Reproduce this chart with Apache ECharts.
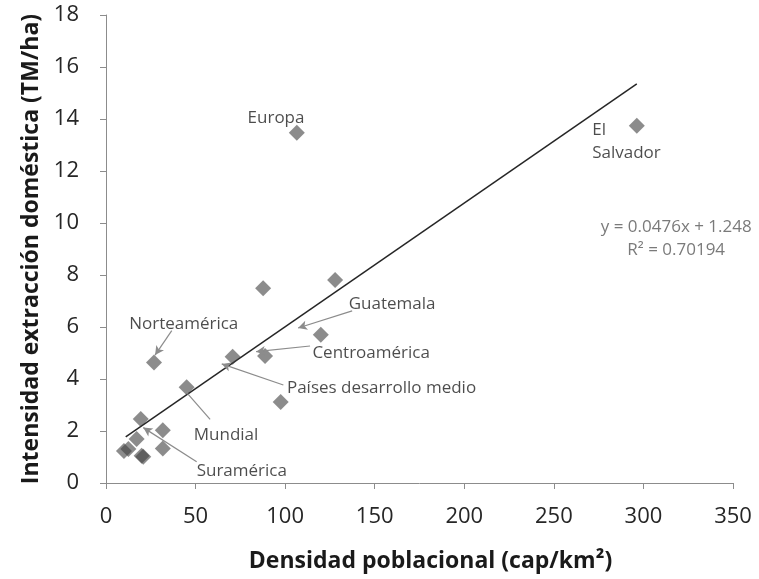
<!DOCTYPE html>
<html><head><meta charset="utf-8">
<script src="https://cdn.jsdelivr.net/npm/echarts@6/dist/echarts.min.js"></script>
<style>html,body{margin:0;padding:0;background:#fff}#c{width:759px;height:579px}</style>
</head><body><div id="c"></div>
<script>
// Data: [densidad, intensidad]
const densidad   = [106.5, 296.3, 87.7, 127.9, 26.8, 70.7, 88.8, 119.9, 45.0, 97.5, 19.4, 31.7, 17.1, 31.7, 10.0, 12.5, 20.8, 19.9];
const intensidad = [13.47, 13.74, 7.49, 7.81, 4.63, 4.86, 4.88, 5.70, 3.68, 3.12, 2.46, 2.03, 1.69, 1.33, 1.23, 1.31, 1.01, 1.05];
// Linear trend (from the displayed equation) and its x range
const trendCoef = [0.0476, 1.248];
const trendRange = [11, 296.3];
const xTicks = [0, 350, 50];
const yTicks = [0, 18, 2];
// Annotation labels: [text, x, y]
const labelNames = ['Europa', 'El\nSalvador', 'Guatemala', 'Norteamérica', 'Centroamérica', 'Países desarrollo medio', 'Mundial', 'Suramérica'];
const labelX = [94.9, 271.4, 159.7, 43.4, 148.0, 153.8, 67.0, 75.8];
const labelY = [14.04, 13.12, 6.88, 6.10, 4.98, 3.63, 1.85, 0.46];
// Leader lines: from (x1,y1) to (x2,y2)
const arrowFrom = [[137.4, 6.62], [36.7, 5.86], [113.9, 5.27], [99.0, 3.77], [50.6, 0.82]];
const arrowTo   = [[107.2, 5.96], [27.4, 4.92], [83.8, 5.05], [64.6, 4.58], [20.8, 2.13]];
const plainFrom = [[58.1, 2.45]];
const plainTo   = [[45.4, 3.45]];
const eqText = ['y = 0.0476x + 1.248', 'R² = 0.70194'];
const eqPos = [318.3, 9.40];

const FONT = 'Open Sans';
const points = densidad.map((x, i) => [x, intensidad[i]]);
const trend = trendRange.map(x => [x, trendCoef[0] * x + trendCoef[1]]);
const leftAligned = {'El\nSalvador': true};
const labels = labelNames.map((n, i) => ({
  value: [labelX[i], labelY[i]],
  label: {
    show: true, formatter: n, position: 'inside',
    align: leftAligned[n] ? 'left' : 'center', verticalAlign: 'middle',
    fontFamily: FONT, fontSize: 17, color: '#1f1f1f', lineHeight: 23
  }
}));
const arrowLines = arrowFrom.map((f, i) => [{coord: f}, {coord: arrowTo[i]}]);
const plainLines = plainFrom.map((f, i) => [{coord: f}, {coord: plainTo[i]}]);

const chart = echarts.init(document.getElementById('c'));
chart.setOption({
  animation: false,
  backgroundColor: '#fff',
  grid: {left: 106, right: 26, top: 15, bottom: 96},
  xAxis: {
    type: 'value', min: xTicks[0], max: xTicks[1], interval: xTicks[2],
    name: 'Densidad poblacional (cap/km²)', nameLocation: 'middle', nameGap: 67,
    nameTextStyle: {fontFamily: FONT, fontSize: 23, fontWeight: 'bold', color: '#1a1a1a', padding: [0, 0, 0, 22]},
    axisLine: {lineStyle: {color: '#8c8c8c', width: 1}},
    axisTick: {show: true, length: 6, lineStyle: {color: '#8c8c8c'}},
    axisLabel: {fontFamily: FONT, fontSize: 22, color: '#262626', margin: 23},
    splitLine: {show: false}
  },
  yAxis: {
    type: 'value', min: yTicks[0], max: yTicks[1], interval: yTicks[2],
    name: 'Intensidad extracción doméstica (TM/ha)', nameLocation: 'middle', nameGap: 59,
    nameTextStyle: {fontFamily: FONT, fontSize: 23, fontWeight: 'bold', color: '#1a1a1a'},
    axisLine: {show: true, lineStyle: {color: '#8c8c8c', width: 1}},
    axisTick: {show: true, length: 6, lineStyle: {color: '#8c8c8c'}},
    axisLabel: {fontFamily: FONT, fontSize: 22, color: '#262626', margin: 27},
    splitLine: {show: false}
  },
  series: [
    {
      type: 'line', data: trend, symbol: 'none', z: 3,
      lineStyle: {color: '#262626', width: 1.5},
      markLine: {
        silent: true, symbol: ['none', 'arrow'], symbolSize: [7, 9],
        lineStyle: {color: '#8c8c8c', width: 1.2, type: 'solid'},
        label: {show: false}, data: arrowLines
      }
    },
    {
      type: 'line', data: [], symbol: 'none',
      markLine: {
        silent: true, symbol: ['none', 'none'],
        lineStyle: {color: '#8c8c8c', width: 1.2, type: 'solid'},
        label: {show: false}, data: plainLines
      }
    },
    {
      type: 'scatter', data: points, symbol: 'diamond', symbolSize: 16, z: 4,
      itemStyle: {color: '#3f3f3f', opacity: 0.6}
    },
    {
      type: 'scatter', data: labels, symbolSize: 0, z: 5, silent: true
    },
    {
      type: 'scatter', symbolSize: 0, z: 5, silent: true,
      data: [{value: eqPos, label: {show: true, position: 'inside', formatter: eqText.join('\n'),
        align: 'center', verticalAlign: 'middle', fontFamily: FONT, fontSize: 17, lineHeight: 23, color: '#595959'}}]
    }
  ]
});
</script></body></html>
